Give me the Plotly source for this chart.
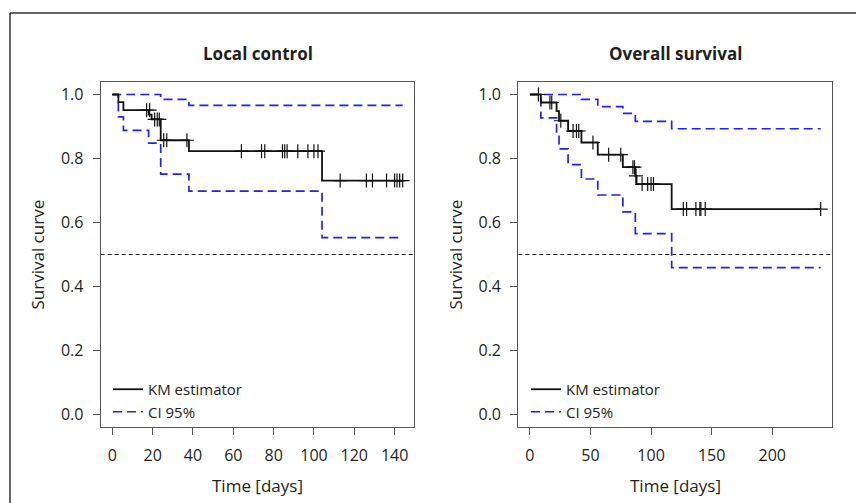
import plotly.graph_objects as go

# ---------------- Data ----------------
# Left panel: Local control
lc_km_t = [0, 3, 5.5, 18, 19.5, 24, 38, 104, 144]
lc_km_s = [1.0, 0.976, 0.951, 0.937, 0.922, 0.857, 0.823, 0.731, 0.731]
lc_up_t = [0, 24, 38, 144]
lc_up_s = [1.0, 0.985, 0.966, 0.966]
lc_lo_t = [0, 3, 5.5, 18, 24, 38, 104, 144]
lc_lo_s = [1.0, 0.930, 0.888, 0.848, 0.751, 0.698, 0.553, 0.553]
lc_cens_t = [17, 18.5, 21, 22.3, 23.3, 25.5, 27, 37,
             64, 74, 75.6, 84.4, 85.5, 86.7, 92, 97, 100, 102,
             113, 126, 129, 136, 140, 141.2, 142.5, 144]
lc_cens_s = [0.951, 0.951, 0.922, 0.922, 0.922, 0.857, 0.857, 0.857,
             0.823, 0.823, 0.823, 0.823, 0.823, 0.823, 0.823, 0.823, 0.823, 0.823,
             0.731, 0.731, 0.731, 0.731, 0.731, 0.731, 0.731, 0.731]

# Right panel: Overall survival
os_km_t = [0, 9, 22, 24, 31.5, 42.5, 56, 76.7, 87, 88, 117, 240]
os_km_s = [1.0, 0.975, 0.948, 0.918, 0.886, 0.850, 0.812, 0.773, 0.746, 0.720, 0.642, 0.642]
os_up_t = [0, 42.5, 56, 76.7, 87, 117, 240]
os_up_s = [1.0, 0.985, 0.962, 0.941, 0.916, 0.893, 0.893]
os_lo_t = [0, 9, 22, 24, 31.5, 42.5, 56, 76.7, 87, 117, 240]
os_lo_s = [1.0, 0.927, 0.880, 0.830, 0.781, 0.736, 0.686, 0.633, 0.565, 0.459, 0.459]
os_cens_t = [7, 16.5, 18, 25.5, 35.6, 38.4, 40.3, 52, 65, 75, 85, 86.3, 87.5,
             92.6, 97.2, 100, 102, 126.6, 129.3, 137, 140.3, 141.1, 144.7, 240]
os_cens_s = [1.0, 0.975, 0.975, 0.918, 0.886, 0.886, 0.886, 0.850, 0.812, 0.812,
             0.773, 0.773, 0.746, 0.720, 0.720, 0.720, 0.720,
             0.642, 0.642, 0.642, 0.642, 0.642, 0.642, 0.642]

titles = ["Local control", "Overall survival"]
y_ticks = [0.0, 0.2, 0.4, 0.6, 0.8, 1.0]
y_tick_text = ["0.0", "0.2", "0.4", "0.6", "0.8", "1.0"]
lc_x_ticks = [0, 20, 40, 60, 80, 100, 120, 140]
os_x_ticks = [0, 50, 100, 150, 200]
ref_level = 0.5

# ---------------- Styling ----------------
FONT = "Open Sans"
TXT = "#231f20"
KM_COL = "#111111"
CI_COL = "#1f1fff"
AX_COL = "#555555"

fig = go.Figure()

panels = [
    dict(km_t=lc_km_t, km_s=lc_km_s, up_t=lc_up_t, up_s=lc_up_s, lo_t=lc_lo_t, lo_s=lc_lo_s,
         c_t=lc_cens_t, c_s=lc_cens_s, xa="x", ya="y", legend="legend", xmax=144),
    dict(km_t=os_km_t, km_s=os_km_s, up_t=os_up_t, up_s=os_up_s, lo_t=os_lo_t, lo_s=os_lo_s,
         c_t=os_cens_t, c_s=os_cens_s, xa="x2", ya="y2", legend="legend2", xmax=240),
]

for p in panels:
    # reference line at 0.5 spanning whole panel
    fig.add_trace(go.Scatter(
        x=[-p["xmax"] * 0.04, p["xmax"] * 1.04], y=[ref_level, ref_level], mode="lines",
        line=dict(color="#222222", width=1, dash="4px,3px"),
        xaxis=p["xa"], yaxis=p["ya"], showlegend=False, hoverinfo="skip"))
    fig.add_trace(go.Scatter(
        x=p["up_t"], y=p["up_s"], mode="lines", line_shape="hv",
        line=dict(color=CI_COL, width=1.7, dash="9px,5px"),
        xaxis=p["xa"], yaxis=p["ya"], showlegend=False))
    fig.add_trace(go.Scatter(
        x=p["lo_t"], y=p["lo_s"], mode="lines", line_shape="hv",
        line=dict(color=CI_COL, width=1.7, dash="9px,5px"),
        xaxis=p["xa"], yaxis=p["ya"], name="CI 95%", legend=p["legend"],
        showlegend=True, legendrank=2))
    fig.add_trace(go.Scatter(
        x=p["km_t"], y=p["km_s"], mode="lines", line_shape="hv",
        line=dict(color=KM_COL, width=1.8),
        xaxis=p["xa"], yaxis=p["ya"], name="KM estimator", legend=p["legend"],
        showlegend=True, legendrank=1))
    fig.add_trace(go.Scatter(
        x=p["c_t"], y=p["c_s"], mode="markers",
        marker=dict(symbol="cross-thin", size=10, line=dict(color=KM_COL, width=1.2)),
        xaxis=p["xa"], yaxis=p["ya"], showlegend=False))

W, H = 856, 503
ydom = [1 - 427.3 / H, 1 - 81.7 / H]
xdom1 = [100.7 / W, 414.3 / W]
xdom2 = [518.3 / W, 832.3 / W]

axis_common = dict(showgrid=False, zeroline=False, showline=True, mirror=True,
                   linecolor=AX_COL, linewidth=1.2, ticks="outside", ticklen=7,
                   tickcolor=AX_COL, tickwidth=1, ticklabelstandoff=6,
                   tickfont=dict(family=FONT, size=16, color=TXT))

fig.update_layout(
    width=W, height=H, margin=dict(l=0, r=0, t=0, b=0),
    paper_bgcolor="white", plot_bgcolor="white",
    font=dict(family=FONT, color=TXT),
    xaxis=dict(domain=xdom1, range=[-144 * 0.04, 144 * 1.04], tickvals=lc_x_ticks,
               anchor="y", **axis_common),
    yaxis=dict(domain=ydom, range=[-0.04, 1.04], tickvals=y_ticks, ticktext=y_tick_text,
               anchor="x", **axis_common),
    xaxis2=dict(domain=xdom2, range=[-240 * 0.04, 240 * 1.04], tickvals=os_x_ticks,
                anchor="y2", **axis_common),
    yaxis2=dict(domain=ydom, range=[-0.04, 1.04], tickvals=y_ticks, ticktext=y_tick_text,
                anchor="x2", **axis_common),
    legend=dict(x=108 / W, y=1 - 373 / H, xanchor="left", yanchor="top",
                bgcolor="rgba(0,0,0,0)", font=dict(family=FONT, size=15, color=TXT),
                itemwidth=30, tracegroupgap=0, traceorder="normal"),
    legend2=dict(x=526 / W, y=1 - 373 / H, xanchor="left", yanchor="top",
                 bgcolor="rgba(0,0,0,0)", font=dict(family=FONT, size=15, color=TXT),
                 itemwidth=30, tracegroupgap=0, traceorder="normal"),
    showlegend=True,
)

annots = []
for cx, title in zip([(xdom1[0] + xdom1[1]) / 2, (xdom2[0] + xdom2[1]) / 2], titles):
    annots.append(dict(text="<b>" + title + "</b>", x=cx, y=1 - 53 / H, xref="paper", yref="paper",
                       showarrow=False, font=dict(family=FONT, size=17, color=TXT),
                       xanchor="center", yanchor="middle"))
    annots.append(dict(text="Time [days]", x=cx, y=1 - 485 / H, xref="paper", yref="paper",
                       showarrow=False, font=dict(family=FONT, size=17, color=TXT),
                       xanchor="center", yanchor="middle"))
for lx in [37 / W, 455 / W]:
    annots.append(dict(text="Survival curve", x=lx, y=(ydom[0] + ydom[1]) / 2, xref="paper",
                       yref="paper", showarrow=False, textangle=-90,
                       font=dict(family=FONT, size=17, color=TXT),
                       xanchor="center", yanchor="middle"))
fig.update_layout(annotations=annots)

# outer frame (left and top edges only are visible in the reference)
fig.add_shape(type="line", xref="paper", yref="paper", x0=10 / W, x1=10 / W, y0=0, y1=1 - 13 / H,
              line=dict(color="#333333", width=1.5))
fig.add_shape(type="line", xref="paper", yref="paper", x0=10 / W, x1=1, y0=1 - 13 / H, y1=1 - 13 / H,
              line=dict(color="#333333", width=1.5))

fig.write_html("out.html", config={"displayModeBar": False},
               post_script="document.body.style.margin='0';document.body.style.overflow='hidden';")
